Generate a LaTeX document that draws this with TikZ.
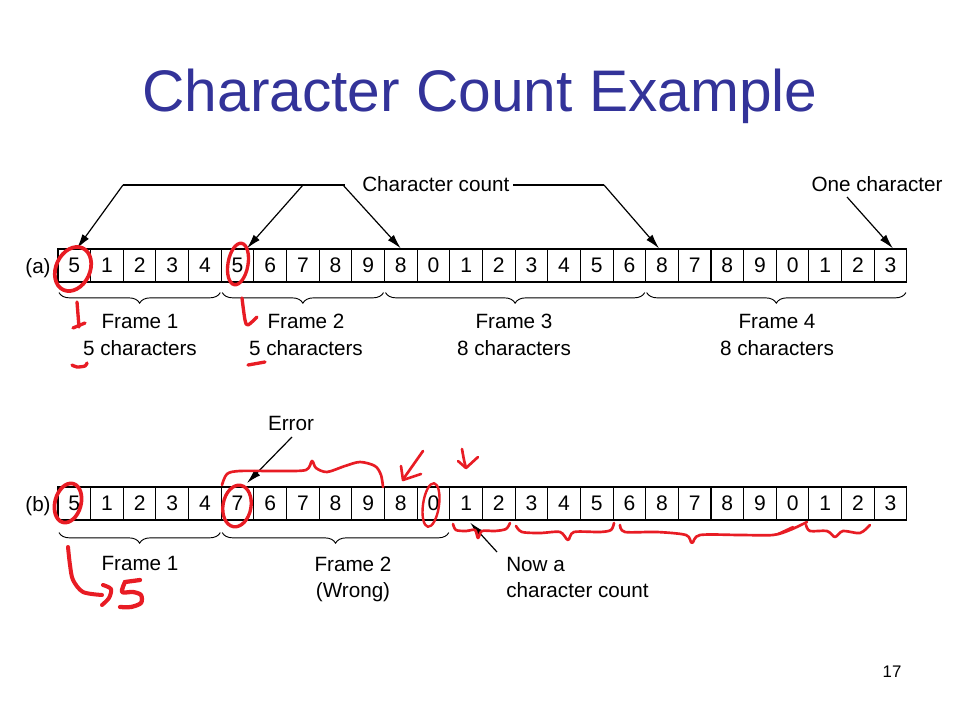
\documentclass[tikz,border=0pt]{standalone}
\usepackage{fontspec}
\setmainfont{Liberation Sans}
\usetikzlibrary{arrows.meta,decorations.pathreplacing}
\definecolor{titleblue}{RGB}{51,51,153}
\definecolor{penred}{RGB}{232,28,36}
\begin{document}
\begin{tikzpicture}[x=0.75pt,y=-0.75pt,
  txt/.style={font=\fontsize{15.5}{18}\selectfont, inner sep=0pt},
  cell/.style={draw, line width=0.8pt, minimum width=24.49pt, minimum height=24.75pt, inner sep=0pt, font=\fontsize{15.8}{18}\selectfont},
  arr/.style={line width=0.9pt, -{Latex[length=11pt,width=6pt]}},
  plainline/.style={line width=0.9pt},
  br/.style={line width=0.7pt, decorate, decoration={brace,mirror,amplitude=8pt}},
  pen/.style={draw=penred, line width=2.5pt, line cap=round, line join=round},
]
\useasboundingbox (0,0) rectangle (960,720);

% title
\node[font=\fontsize{44}{50}\selectfont, text=titleblue, anchor=base, inner sep=0pt] (title) at (480,112) {Character Count Example};

% row (a)
\foreach \v [count=\i from 0] in {5,1,2,3,4,5,6,7,8,9,8,0,1,2,3,4,5,6,8,7,8,9,0,1,2,3}
  \node[cell] (a\i) at ({58+(\i+0.5)*32.65},265.5) {\v};
% row (b)
\foreach \v [count=\i from 0] in {5,1,2,3,4,7,6,7,8,9,8,0,1,2,3,4,5,6,8,7,8,9,0,1,2,3}
  \node[cell] (b\i) at ({58+(\i+0.5)*32.65},503.5) {\v};

\node[txt, anchor=base] (la) at (38,274) {(a)};
\node[txt, anchor=base] (lb) at (38,511) {(b)};

% top labels
\node[txt, anchor=base west] (cc) at (362,192) {Character count};
\node[txt, anchor=base] (one) at (877,192) {One character};
\coordinate (j1) at (123,185);
\coordinate (j2) at (303,185);
\coordinate (j3) at (343,185);
\coordinate (k1) at (345,185);
\coordinate (k2) at (513,185);
\coordinate (j4) at (604,185);
\coordinate (o1) at (847,197);
\draw[plainline] (j1) -- (k1);
\draw[plainline] (k2) -- (j4);
\draw[arr] (j1) -- ([xshift=2pt]a0.north);
\draw[arr] (j2) -- ([xshift=7pt]a5.north);
\draw[arr] (j3) -- (a10.north);
\draw[arr] (j4) -- ([xshift=-2.2pt]a18.north);
\draw[arr] (o1) -- ([xshift=1.8pt]a25.north);

% braces (a)
\draw[br] ([shift={(1.5,10)}]a0.south west) -- ([shift={(-1.5,10)}]a4.south east);
\draw[br] ([shift={(1.5,10)}]a5.south west) -- ([shift={(-1.5,10)}]a9.south east);
\draw[br] ([shift={(1.5,10)}]a10.south west) -- ([shift={(-1.5,10)}]a17.south east);
\draw[br] ([shift={(1.5,10)}]a18.south west) -- ([shift={(-1.5,10)}]a25.south east);

\node[txt, anchor=base] (f1) at (140,329) {Frame 1};
\node[txt, anchor=base] (c1) at (140,355) {5 characters};
\node[txt, anchor=base] (f2) at (306,329) {Frame 2};
\node[txt, anchor=base] (c2) at (306,355) {5 characters};
\node[txt, anchor=base] (f3) at (514,329) {Frame 3};
\node[txt, anchor=base] (c3) at (514,355) {8 characters};
\node[txt, anchor=base] (f4) at (777,329) {Frame 4};
\node[txt, anchor=base] (c4) at (777,355) {8 characters};

% row (b) labels
\node[txt, anchor=base] (err) at (291,430) {Error};
\coordinate (e1) at (292,437);
\draw[arr] (e1) -- ([xshift=7pt,yshift=2.5pt]b5.north);

\draw[br] ([shift={(1.5,12)}]b0.south west) -- ([shift={(-1.5,12)}]b4.south east);
\draw[br] ([shift={(1.5,12)}]b5.south west) -- ([shift={(-1.5,12)}]b11.south east);

\node[txt, anchor=base] (g1) at (140,570) {Frame 1};
\node[txt, anchor=base] (g2) at (353,571) {Frame 2};
\node[txt, anchor=base] (g3) at (353,597) {(Wrong)};
\node[txt, anchor=base west] (now1) at (506,571) {Now a};
\node[txt, anchor=base west] (now2) at (506,597) {character count};
\coordinate (n1) at (497,552);
\draw[arr] (n1) -- ([xshift=3pt,yshift=-1.5pt]b12.south);

% slide number
\node[font=\fontsize{12.6}{15}\selectfont, anchor=base, inner sep=0pt] (num) at (892,677) {17};

% ---------- red hand annotations ----------
% (a)
\draw[pen, line width=2.8pt, rotate around={-25:(73,269)}] (73,269) ellipse [x radius=17, y radius=23];
\draw[pen, rotate around={-10:(238,264)}] (238,264) ellipse [x radius=10, y radius=21];
\draw[pen] (77,302) -- (79,327);
\draw[pen] (73,328) -- (85,323);
\draw[pen] plot[smooth] coordinates {(72,365) (77,367) (85,366) (87,363)};
\draw[pen] plot[smooth] coordinates {(242,298) (245,320) (248,325) (257,317)};
\draw[pen] (248,365) -- (265,362);

% (b)
\draw[pen, line width=2.8pt, rotate around={-15:(68,503)}] (68,503) ellipse [x radius=13, y radius=20];
\draw[pen, rotate around={-10:(237,506)}] (237,506) ellipse [x radius=14, y radius=21];
\draw[pen, line width=1.8pt, rotate around={-8:(431,505)}] (431,505) ellipse [x radius=8, y radius=22];
\draw[pen, line width=2pt] plot[smooth] coordinates {(222,485) (227,474) (240,471) (280,471) (306,470) (312,461) (316,468) (327,472) (345,466) (360,462) (375,466) (381,475) (383,487)};
\draw[pen, line width=2pt] (423,451) -- (404,478);
\draw[pen, line width=2pt] (401,466) -- (403,480) -- (421,474);
\draw[pen, line width=2pt] plot[smooth] coordinates {(462,449) (464,460) (466,468)};
\draw[pen, line width=2pt] (466,468) -- (478,457);
\draw[pen, line width=2pt] (458,461) -- (466,468);

% red braces under (b)
\draw[pen, line width=2pt] plot[smooth] coordinates {(453,524) (456,530) (466,531) (475,530) (478,538) (482,531) (495,531) (506,529) (510,523)};
\draw[pen, line width=2pt] plot[smooth] coordinates {(516,526) (522,532) (540,533) (560,532) (568,540) (574,532) (600,532) (611,530) (614,523)};
\draw[pen, line width=2pt] plot[smooth] coordinates {(620,525) (625,532) (657,532) (686,535) (692,543) (700,535) (740,535) (773,535) (790,530) (807,522)};
\draw[pen, line width=1.8pt] (778,534) -- (793,527);
\draw[pen, line width=2pt] plot[smooth] coordinates {(806,525) (810,531) (827,531) (835,537) (843,531) (860,533) (870,525)};

% arrow to 5
\draw[pen, line width=3pt] plot[smooth] coordinates {(68,547) (70,565) (73,580) (83,592) (102,595)};
\draw[pen, line width=3pt] plot[smooth] coordinates {(103,585) (111,589) (109,598) (102,605)};
\draw[pen, line width=3.2pt] (140,580) -- (125,582);
\draw[pen, line width=3.2pt] plot[smooth] coordinates {(125,582) (122,592) (133,592) (141,595) (141,603) (131,607) (120,607)};
\end{tikzpicture}
\end{document}
